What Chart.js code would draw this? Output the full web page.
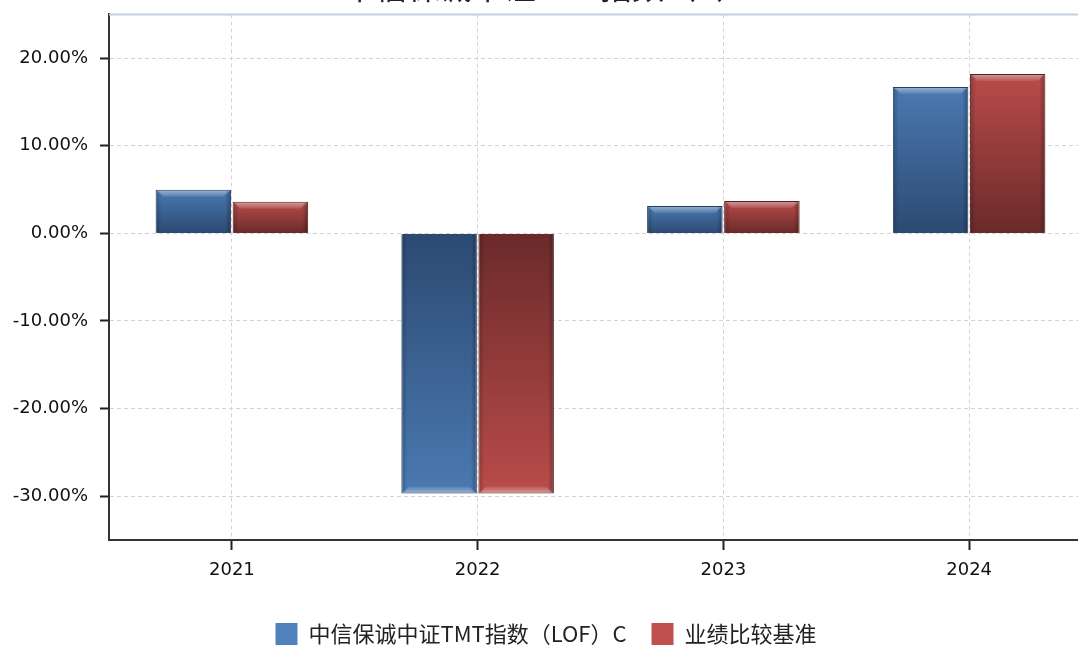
<!DOCTYPE html>
<html>
<head>
<meta charset="utf-8">
<script src="https://cdn.jsdelivr.net/npm/chart.js@4.4.1/dist/chart.umd.min.js"></script>
<style>
  html, body { margin: 0; padding: 0; background: #fff; overflow: hidden; width: 1078px; height: 646px; }
  #wrap { position: absolute; left: 0; top: -32px; width: 1092px; height: 687px; }
</style>
</head>
<body>
<div id="wrap"><canvas id="chart1"></canvas></div>
<script>
// data (percent)
const years = ['2021', '2022', '2023', '2024'];
const fundValues = [4.97, -29.7, 3.14, 16.7];
const benchValues = [3.6, -29.7, 3.7, 18.2];
const yTicks = [-30, -20, -10, 0, 10, 20];
const seriesNames = ['中信保诚中证TMT指数（LOF）C', '业绩比较基准'];
const titleText = '中信保诚中证TMT指数（C）';

const legendColors = ['#4f81bd', '#c0504d'];

Chart.defaults.font.family = 'DejaVu Sans';
Chart.defaults.font.size = 18;
Chart.defaults.color = '#111';

// gradient from the outer end of the bar (light) to the zero line (dark)
function barFill(outer, base) {
  return function(ctx) {
    const chart = ctx.chart;
    const y = chart.scales.y;
    if (!chart.chartArea || !y || ctx.type !== 'data') return outer;
    const y1 = y.getPixelForValue(ctx.raw);
    const y0 = y.getPixelForValue(0);
    if (!isFinite(y1) || !isFinite(y0) || y1 === y0) return outer;
    const g = chart.ctx.createLinearGradient(0, y1, 0, y0);
    g.addColorStop(0, outer);
    g.addColorStop(1, base);
    return g;
  };
}

// bevel look on the bars + light top border of the plot
const bevel = {
  id: 'bevel',
  beforeDatasetsDraw(chart) {
    const c = chart.ctx, a = chart.chartArea;
    c.save();
    c.strokeStyle = '#c3d0e2';
    c.lineWidth = 2;
    c.beginPath();
    c.moveTo(a.left, a.top);
    c.lineTo(a.right, a.top);
    c.stroke();
    c.restore();
  },
  afterDatasetsDraw(chart) {
    const c = chart.ctx;
    chart.data.datasets.forEach((ds, i) => {
      chart.getDatasetMeta(i).data.forEach(bar => {
        const { x, y, base, width } = bar.getProps(['x', 'y', 'base', 'width'], true);
        const l = x - width / 2, r = x + width / 2;
        const dir = y < base ? 1 : -1;
        const t = Math.min(y, base), b = Math.max(y, base);
        const h = b - t;
        if (h < 4) return;
        const band = Math.min(7, h / 3);
        c.save();
        // highlight at outer end
        let g = c.createLinearGradient(0, y, 0, y + dir * band);
        g.addColorStop(0, 'rgba(255,255,255,0.45)');
        g.addColorStop(1, 'rgba(255,255,255,0.08)');
        c.fillStyle = g;
        c.beginPath();
        c.moveTo(l + 1, y + dir);
        c.lineTo(r - 1, y + dir);
        c.lineTo(r - 1 - band, y + dir * band);
        c.lineTo(l + 1 + band, y + dir * band);
        c.closePath();
        c.fill();
        // side shading
        const side = Math.min(6, width / 8);
        g = c.createLinearGradient(l, 0, l + side, 0);
        g.addColorStop(0, 'rgba(0,0,0,0.22)');
        g.addColorStop(1, 'rgba(0,0,0,0)');
        c.fillStyle = g;
        c.fillRect(l + 1, t + 1, side, h - 2);
        g = c.createLinearGradient(r, 0, r - side, 0);
        g.addColorStop(0, 'rgba(0,0,0,0.3)');
        g.addColorStop(1, 'rgba(0,0,0,0)');
        c.fillStyle = g;
        c.fillRect(r - 1 - side, t + 1, side, h - 2);
        c.restore();
      });
    });
  }
};

const chart1 = new Chart(document.getElementById('chart1'), {
  type: 'bar',
  data: {
    labels: years,
    datasets: [{
      label: seriesNames[0],
      data: fundValues,
      backgroundColor: barFill('#4a79b1', '#2c4a72'),
      borderColor: '#263e5e',
      borderWidth: 1
    }, {
      label: seriesNames[1],
      data: benchValues,
      backgroundColor: barFill('#b94c4a', '#6a2a2a'),
      borderColor: '#552222',
      borderWidth: 1
    }]
  },
  options: {
    responsive: true,
    maintainAspectRatio: false,
    animation: false,
    categoryPercentage: 0.627,
    barPercentage: 0.98,
    layout: { padding: 0 },
    plugins: {
      title: {
        display: true,
        text: titleText,
        color: '#222',
        font: { family: 'Noto Sans CJK SC', size: 32, weight: 'normal' },
        padding: { top: 0, bottom: 8 }
      },
      legend: {
        position: 'bottom',
        labels: {
          boxWidth: 22,
          boxHeight: 22,
          padding: 25,
          color: '#222',
          font: { family: 'Noto Sans CJK SC', size: 22 },
          generateLabels: () => seriesNames.map((n, i) => ({
            text: n, fillStyle: legendColors[i], strokeStyle: legendColors[i],
            lineWidth: 0, hidden: false, datasetIndex: i, fontColor: '#222'
          }))
        }
      },
      tooltip: { enabled: false }
    },
    scales: {
      x: {
        grid: { offset: false, color: '#d4d4d4', tickColor: '#222', tickLength: 10, tickWidth: 2, tickBorderDash: [] },
        border: { display: true, color: '#333', width: 2, dash: [4, 3] },
        ticks: { padding: 10, color: '#111' },
        afterFit: s => { s.height = 58; }
      },
      y: {
        min: -35,
        max: 25,
        afterBuildTicks: s => { s.ticks = yTicks.map(v => ({ value: v })); },
        afterFit: s => { s.width = 109; },
        grid: { color: '#d4d4d4', tickColor: '#222', tickLength: 9, tickWidth: 2, tickBorderDash: [] },
        border: { display: true, color: '#333', width: 2, dash: [4, 3] },
        ticks: { padding: 12, color: '#111', callback: v => v.toFixed(2) + '%' }
      }
    }
  },
  plugins: [bevel]
});
</script>
</body>
</html>
